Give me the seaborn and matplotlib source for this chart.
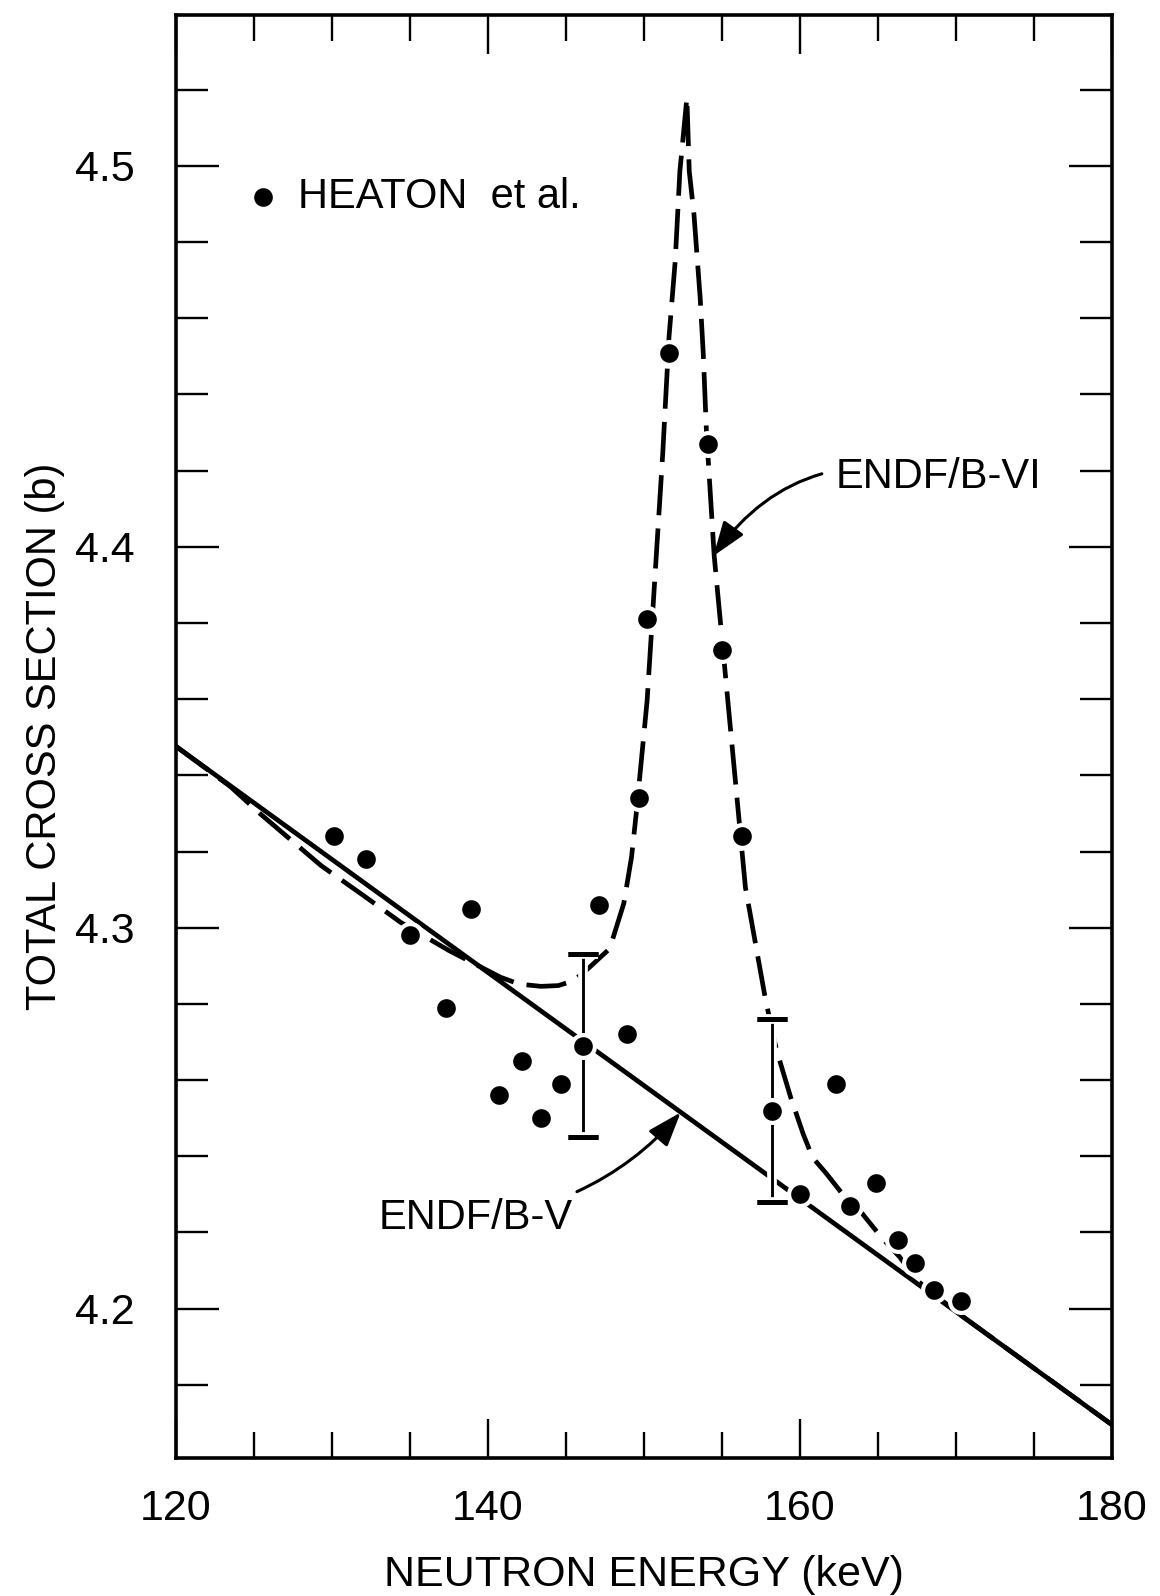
import matplotlib
matplotlib.use("Agg")
import matplotlib.pyplot as plt
import matplotlib.patheffects as pe
from matplotlib.ticker import FixedLocator, FormatStrFormatter
import seaborn as sns

# Heaton et al. total cross section measurements (keV, barns)
heaton_energy = [130.1, 132.2, 135.0, 138.9, 137.3, 140.7, 142.2, 143.4, 144.7, 146.1,
                 147.1, 148.9, 149.7, 150.2, 151.6, 154.1, 155.0, 156.3, 158.2, 160.0,
                 162.3, 163.2, 164.9, 166.3, 167.4, 168.6, 170.3]
heaton_sigma = [4.324, 4.318, 4.298, 4.305, 4.279, 4.256, 4.265, 4.250, 4.259, 4.269,
                4.306, 4.272, 4.334, 4.381, 4.451, 4.427, 4.373, 4.324, 4.252, 4.230,
                4.259, 4.227, 4.233, 4.218, 4.212, 4.205, 4.202]

# representative uncertainties
errbar_energy = [146.1, 158.2]
errbar_sigma = [4.269, 4.252]
errbar_unc = [0.024, 0.024]

# ENDF/B-V evaluation
endf5_energy = [120.0, 180.0]
endf5_sigma = [4.3476, 4.1695]

# ENDF/B-VI evaluation with the 152.7 keV resonance
endf6_energy = [120.0, 123.5, 125.4, 129.3, 132.0, 134.4, 137.5, 140.8, 142.0, 143.4,
                144.5, 145.5, 146.4, 147.8, 148.7, 149.2, 149.5, 150.2, 151.2, 151.6,
                152.0, 152.3, 152.75, 152.9, 153.2, 153.6, 153.8, 154.0, 154.5, 156.5,
                157.8, 158.5, 159.4, 160.2, 160.8, 161.7, 162.7, 164.0, 165.2, 166.4,
                167.5, 170.0, 180.0]
endf6_sigma = [4.3476, 4.3370, 4.3299, 4.3163, 4.3085, 4.3014, 4.2940, 4.2870, 4.2852, 4.2846,
               4.2848, 4.2861, 4.2892, 4.2945, 4.3063, 4.3185, 4.3299, 4.3596, 4.4244, 4.4549,
               4.4750, 4.4986, 4.5179, 4.4986, 4.4874, 4.4654, 4.4506, 4.4305, 4.3976, 4.3106,
               4.2809, 4.2678, 4.2555, 4.2459, 4.2397, 4.2354, 4.2302, 4.2249, 4.2188, 4.2135,
               4.2074, 4.1992, 4.1695]

x_major = [120, 140, 160, 180]
x_minor = [125, 130, 135, 145, 150, 155, 165, 170, 175]
y_major = [4.2, 4.3, 4.4, 4.5]
y_minor = [4.18, 4.22, 4.24, 4.26, 4.28, 4.32, 4.34, 4.36, 4.38,
           4.42, 4.44, 4.46, 4.48, 4.52]

sns.set_theme(style="ticks")
plt.rcParams["font.family"] = ["Liberation Sans", "DejaVu Sans"]
for key in ["text.color", "axes.labelcolor", "xtick.color", "ytick.color", "axes.edgecolor"]:
    plt.rcParams[key] = "black"

fig = plt.figure(figsize=(11.6, 15.96), dpi=100)
ax = fig.add_axes([176 / 1160, 0.0865, 936 / 1160, 0.9041])

lw = 3.4
sns.lineplot(x=endf5_energy, y=endf5_sigma, ax=ax, color="black", lw=lw,
             estimator=None, sort=False, zorder=2)
sns.lineplot(x=endf6_energy, y=endf6_sigma, ax=ax, color="black", lw=lw,
             linestyle=(0, (8.5, 2.8)), estimator=None, sort=False, zorder=3)

eb = ax.errorbar(errbar_energy, errbar_sigma, yerr=errbar_unc, fmt="none",
                 ecolor="black", elinewidth=1.8, capsize=11, capthick=3.6, zorder=4)
for artist in eb.lines[1] + eb.lines[2]:
    artist.set_path_effects([pe.withStroke(linewidth=7, foreground="white"), pe.Normal()])

sns.scatterplot(x=heaton_energy, y=heaton_sigma, ax=ax, color="black", s=270,
                edgecolor="white", linewidth=3, zorder=5)

# legend entry
ax.scatter([125.6], [4.4917], s=270, color="black", edgecolor="white", linewidth=3, zorder=5)
ax.text(127.8, 4.4917, "HEATON  et al.", fontsize=30, va="center", ha="left")

arrow_kw = dict(arrowstyle="-|>,head_length=0.7,head_width=0.25", color="black",
                lw=2.2, mutation_scale=30)
ax.annotate("ENDF/B-VI", xy=(154.45, 4.3976), xytext=(162.3, 4.4184),
            fontsize=30, va="center", ha="left",
            arrowprops=dict(connectionstyle="arc3,rad=0.35", shrinkA=8, shrinkB=0, **arrow_kw))
ax.annotate("ENDF/B-V", xy=(152.35, 4.2515), xytext=(133.0, 4.2237),
            fontsize=30, va="center", ha="left",
            arrowprops=dict(connectionstyle="arc3,rad=0.2", shrinkA=6, shrinkB=0, **arrow_kw))

ax.set_xlim(120, 180)
ax.set_ylim(4.1608, 4.5396)
ax.xaxis.set_major_locator(FixedLocator(x_major))
ax.xaxis.set_minor_locator(FixedLocator(x_minor))
ax.yaxis.set_major_locator(FixedLocator(y_major))
ax.yaxis.set_minor_locator(FixedLocator(y_minor))
ax.yaxis.set_major_formatter(FormatStrFormatter("%.1f"))

ax.tick_params(axis="both", which="both", direction="in", top=True, right=True,
               color="black", width=1.7)
ax.tick_params(axis="x", which="major", length=28, pad=22, labelsize=31)
ax.tick_params(axis="x", which="minor", length=19)
ax.tick_params(axis="y", which="major", length=31, pad=30, labelsize=31)
ax.tick_params(axis="y", which="minor", length=23)

for sp in ax.spines.values():
    sp.set_visible(True)
    sp.set_linewidth(2.6)
    sp.set_color("black")

ax.set_xlabel("NEUTRON ENERGY (keV)", fontsize=31, labelpad=19)
ax.set_ylabel("TOTAL CROSS SECTION (b)", fontsize=30, labelpad=7)
ax.grid(False)
ax.set_facecolor("white")
fig.patch.set_facecolor("white")

fig.savefig("out.png", dpi=100)
